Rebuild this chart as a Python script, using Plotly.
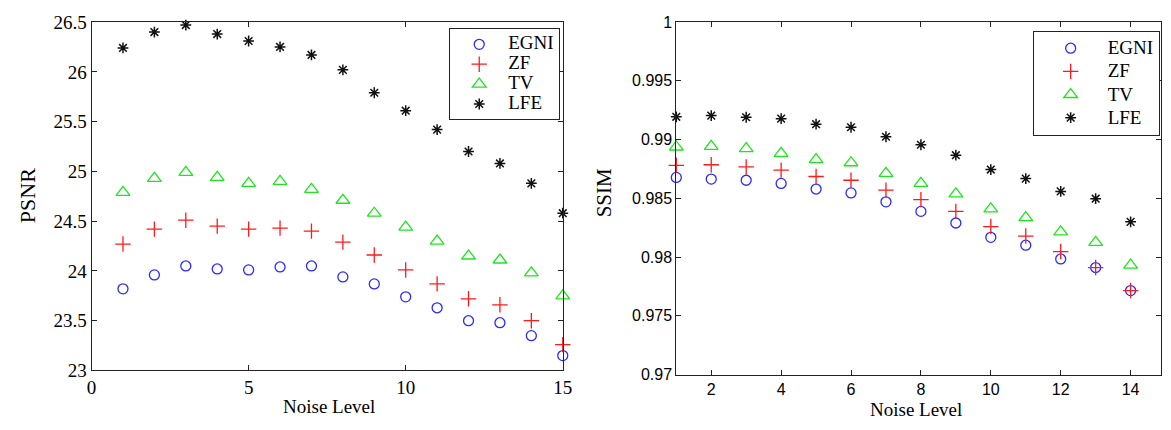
import plotly.graph_objects as go

noise = list(range(1, 16))

psnr_egni = [23.82, 23.96, 24.05, 24.02, 24.01, 24.04, 24.05, 23.94, 23.87, 23.74, 23.63, 23.50, 23.48, 23.35, 23.15]
psnr_zf   = [24.27, 24.42, 24.51, 24.45, 24.42, 24.43, 24.40, 24.29, 24.16, 24.01, 23.87, 23.72, 23.66, 23.50, 23.26]
psnr_tv   = [24.79, 24.93, 24.99, 24.94, 24.88, 24.90, 24.82, 24.71, 24.58, 24.44, 24.30, 24.15, 24.11, 23.98, 23.75]
psnr_lfe  = [26.24, 26.40, 26.47, 26.38, 26.31, 26.25, 26.17, 26.02, 25.79, 25.61, 25.42, 25.20, 25.08, 24.88, 24.58]

ssim_egni = [0.98678, 0.98664, 0.98654, 0.98627, 0.98579, 0.98546, 0.98470, 0.98389, 0.98290, 0.98168, 0.98101, 0.97984, 0.97911, 0.97715, 0.97580]
ssim_zf   = [0.98781, 0.98786, 0.98767, 0.98740, 0.98686, 0.98654, 0.98570, 0.98489, 0.98389, 0.98260, 0.98179, 0.98047, 0.97911, 0.97715, 0.97593]
ssim_tv   = [0.98937, 0.98943, 0.98923, 0.98883, 0.98830, 0.98803, 0.98713, 0.98627, 0.98538, 0.98411, 0.98336, 0.98214, 0.98125, 0.97931, 0.97822]
ssim_lfe  = [0.99194, 0.99204, 0.99190, 0.99178, 0.99131, 0.99105, 0.99024, 0.98956, 0.98867, 0.98745, 0.98668, 0.98559, 0.98497, 0.98300, 0.98160]

methods = ["EGNI", "ZF", "TV", "LFE"]

psnr_ticks = [23, 23.5, 24, 24.5, 25, 25.5, 26, 26.5]
psnr_ticktext = ["23", "23.5", "24", "24.5", "25", "25.5", "26", "26.5"]
ssim_ticks = [0.97, 0.975, 0.98, 0.985, 0.99, 0.995, 1.0]
ssim_ticktext = ["0.97", "0.975", "0.98", "0.985", "0.99", "0.995", "1"]
left_xticks = [0, 5, 10, 15]
right_xticks = [2, 4, 6, 8, 10, 12, 14]

SERIF = "Liberation Serif, Times New Roman, serif"
SANS = "Liberation Sans, Arial, sans-serif"

styles = {
    "EGNI": dict(symbol="circle-open", size=10, color="#2a2aff", line=dict(width=1.3, color="#2a2aff")),
    "ZF": dict(symbol="cross-thin-open", size=11, color="#ff1a1a", line=dict(width=1.3, color="#ff1a1a")),
    "TV": dict(symbol="triangle-up-open", size=12, color="#1ee61e", line=dict(width=1.3, color="#1ee61e")),
    "LFE": dict(symbol="asterisk-open", size=9, color="#111111", line=dict(width=1.5, color="#111111")),
}

fig = go.Figure()

left_data = [psnr_egni, psnr_zf, psnr_tv, psnr_lfe]
right_data = [ssim_egni, ssim_zf, ssim_tv, ssim_lfe]

for name, ys in zip(methods, left_data):
    fig.add_trace(go.Scatter(
        x=noise, y=ys, mode="markers", marker=styles[name], cliponaxis=False,
        name='<span style="font-size:19px">' + name + '</span>',
        xaxis="x", yaxis="y", legend="legend"))

for name, ys in zip(methods, right_data):
    fig.add_trace(go.Scatter(
        x=noise, y=ys, mode="markers", marker=styles[name], cliponaxis=False,
        name='<span style="font-size:19px">' + name + '</span>',
        xaxis="x2", yaxis="y2", legend="legend2"))

axis_common = dict(showline=True, linecolor="#222", linewidth=1, mirror="ticks",
                   ticks="inside", ticklen=5, tickcolor="#222", showgrid=False,
                   zeroline=False)

fig.update_layout(
    width=1171, height=430,
    margin=dict(l=0, r=0, t=0, b=0),
    paper_bgcolor="white", plot_bgcolor="white",
    showlegend=True,
    xaxis=dict(domain=[0.07489, 0.48249], range=[0, 15], tickvals=left_xticks,
               tickfont=dict(family=SERIF, size=19, color="black"), anchor="y", **axis_common),
    yaxis=dict(domain=[0.11860, 0.97047], range=[23, 26.5], tickvals=psnr_ticks, ticktext=psnr_ticktext,
               tickfont=dict(family=SERIF, size=19, color="black"), anchor="x", **axis_common),
    xaxis2=dict(domain=[0.58070, 1.0], range=[1, 14.87], tickvals=right_xticks,
                tickfont=dict(family=SANS, size=16, color="black"), anchor="y2", **axis_common),
    yaxis2=dict(domain=[0.10860, 0.97047], range=[0.97, 1.0], tickvals=ssim_ticks, ticktext=ssim_ticktext,
                tickfont=dict(family=SANS, size=16, color="black"), anchor="x2", **axis_common),
    legend=dict(x=450/1171, y=1-19.3/430, xanchor="left", yanchor="top",
                bordercolor="#222", borderwidth=1, bgcolor="white",
                font=dict(family=SERIF, size=13, color="black"), itemwidth=48,
                tracegroupgap=0),
    legend2=dict(x=1041/1171, y=1-21.7/430, xanchor="left", yanchor="top",
                 bordercolor="#222", borderwidth=1, bgcolor="white",
                 font=dict(family=SERIF, size=15.5, color="black"), itemwidth=64,
                 tracegroupgap=0),
    annotations=[
        dict(text="Noise Level", x=328/1171, y=(430-417)/430, xref="paper", yref="paper",
             showarrow=False, font=dict(family=SERIF, size=19, color="black"), xanchor="center", yanchor="middle"),
        dict(text="Noise Level", x=923/1171, y=(430-420)/430, xref="paper", yref="paper",
             showarrow=False, font=dict(family=SERIF, size=19, color="black"), xanchor="center", yanchor="middle"),
        dict(text="PSNR", x=23/1171, y=(430-195)/430, xref="paper", yref="paper", textangle=-90,
             showarrow=False, font=dict(family=SERIF, size=22, color="black"), xanchor="center", yanchor="middle"),
        dict(text="SSIM", x=607/1171, y=(430-192.5)/430, xref="paper", yref="paper", textangle=-90,
             showarrow=False, font=dict(family=SERIF, size=21, color="black"), xanchor="center", yanchor="middle"),
    ],
)

fig.write_html("out.html")
